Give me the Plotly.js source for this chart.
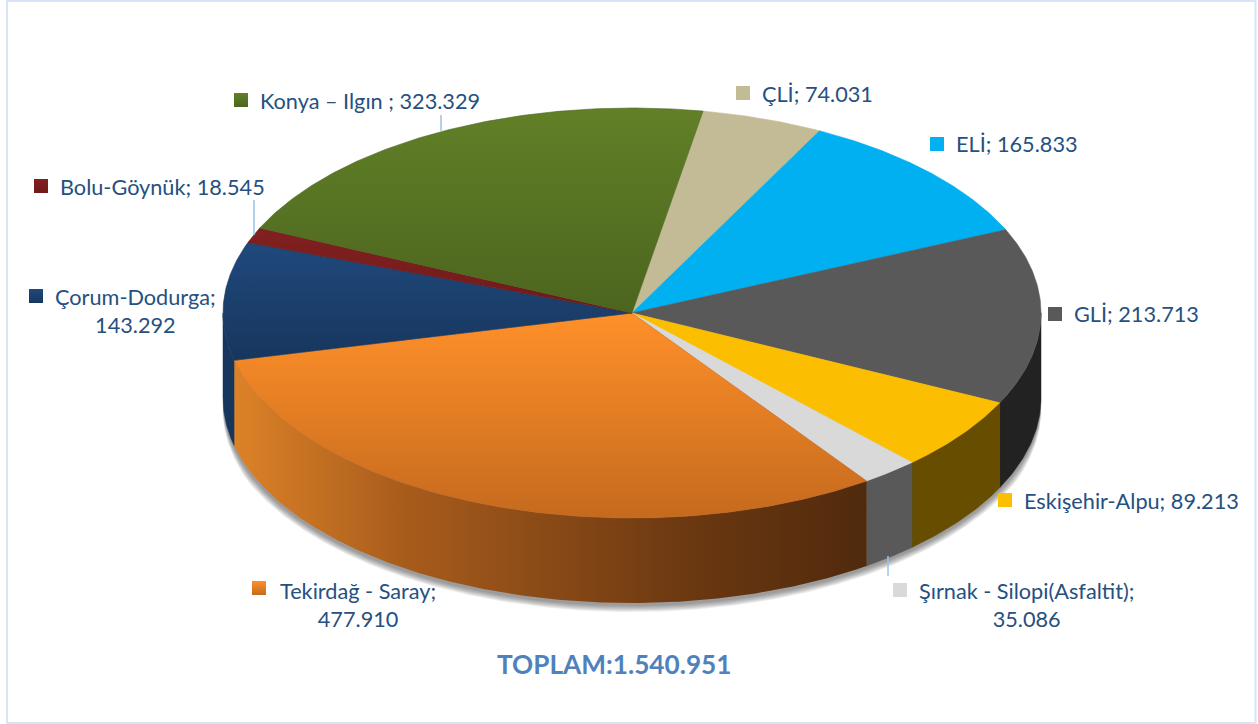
<!DOCTYPE html>
<html><head><meta charset="utf-8">
<script src="https://cdn.plot.ly/plotly-3.0.1.min.js"></script>
<style>html,body{margin:0;padding:0;background:#fff}#c{width:1258px;height:724px}</style>
</head><body><div id="c"></div>
<script>
// ---- data (clockwise from the ÇLİ slice) ----
const categories = ["ÇLİ","ELİ","GLİ","Eskişehir-Alpu","Şırnak - Silopi(Asfaltit)","Tekirdağ - Saray","Çorum-Dodurga","Bolu-Göynük","Konya – Ilgın "];
const values = [74031,165833,213713,89213,35086,477910,143292,18545,323329];
const totalLabel = "TOPLAM:1.540.951";

// ---- styles ----
const topFrom = ["#C2BB96","#00B0F0","#595959","#FCBE00","#D9D9D9","#FF9029","#1F497D","#822020","#618027"];
const topTo   = ["#C2BB96","#00B0F0","#595959","#FCBE00","#D9D9D9","#C56A1E","#17365D","#6E1A1A","#4C651F"];
const wallCol = ["#7F7A60","#007099","#222222","#664D00","#595959","#000000","#17365D","#4D1313","#35461A"];
const orangeWall = [[0,"#DC8228"],[0.27,"#A85C1C"],[0.72,"#6B3811"],[1,"#502A0D"]];

// ---- geometry ----
const CX=632, CY=313, RX=409, RY=205, DEPTH=85, START=10;
const W=1258, H=724;
const rad=d=>d*Math.PI/180;
const px=(t,k=0)=>CX+(RX+k)*Math.sin(rad(t));
const py=(t,k=0,dy=0)=>CY+dy-(RY+k)*Math.cos(rad(t));
const sum=values.reduce((a,b)=>a+b,0);
let acc=START;
const spans=values.map(v=>{const a=acc;acc+=v/sum*360;return [a,acc];});
function arc(a,b,k,dy,taper){const n=Math.max(2,Math.ceil(Math.abs(b-a)*2));const xs=[],ys=[];
  for(let i=0;i<=n;i++){const t=a+(b-a)*i/n;
    const f=taper?Math.min(1,Math.min(t-a,b-t)/taper):1;
    xs.push(px(t,k*f));ys.push(py(t,k*f,dy));}
  return [xs,ys];}

const traces=[];
// soft shadow
for(let k=7;k>=1;k--){
  const [x,y]=arc(90,270,k,DEPTH+2,22);
  traces.push({x,y,type:"scatter",mode:"lines",fill:"toself",fillcolor:"rgba(60,60,60,0.09)",line:{width:0},hoverinfo:"skip",showlegend:false});
}
// walls
spans.forEach(([a,b],i)=>{
  const s=Math.max(a,90), e=Math.min(b,270);
  if(e<=s) return;
  const [x1,y1]=arc(s,e,0,0), [x2,y2]=arc(e,s,0,DEPTH);
  const x=x1.concat(x2), y=y1.concat(y2);
  x.push(x[0]); y.push(y[0]);
  const t={x,y,type:"scatter",mode:"lines",fill:"toself",hoverinfo:"skip",showlegend:false,line:{width:0.5,color:wallCol[i]},fillcolor:wallCol[i]};
  if(i===5){ t.fillgradient={type:"horizontal",colorscale:orangeWall,start:px(e),stop:px(s)}; t.line={width:0}; }
  traces.push(t);
});
// top faces
spans.forEach(([a,b],i)=>{
  const [xa,ya]=arc(a,b,0,0);
  const x=[CX].concat(xa,[CX]), y=[CY].concat(ya,[CY]);
  const t={x,y,type:"scatter",mode:"lines",fill:"toself",hoverinfo:"skip",showlegend:false,line:{width:0.6,color:topFrom[i]},fillcolor:topFrom[i]};
  if(topFrom[i]!==topTo[i]){
    const lo=Math.min(...y), hi=Math.max(...y);
    t.fillgradient={type:"vertical",colorscale:[[0,topFrom[i]],[1,topTo[i]]],start:lo,stop:hi};
    t.line={width:0.6,color:topTo[i]};
  }
  traces.push(t);
});

// ---- labels ----
const fmt=v=>String(v).replace(/\B(?=(\d{3})+$)/g,".");
const sep=[0,0,0,0,1,1,1,0,0]; // 1: value on second line
const textX=[760,954,1072,1022,917,278,53,58,258];
const textY=[94,144,314,501,605,605,311,187,101];
const keyX=[743,937,1055,1005,900,259,36,41,241];
const keyY=[93,144,314,500,590,588,296,186,100];
const annotations=categories.map((c,i)=>({
  x:textX[i],y:textY[i],xref:"x",yref:"y",xanchor:"left",yanchor:"middle",align:"center",showarrow:false,
  text:c+";"+(sep[i]?"<br>":" ")+fmt(values[i]),
  font:{family:"Lato, Carlito, sans-serif",size:21.7,color:"#25507F"}
}));
annotations.push({x:614,y:664,xref:"x",yref:"y",xanchor:"center",yanchor:"middle",showarrow:false,
  text:"<b>"+totalLabel+"</b>",font:{family:"Lato, Carlito, sans-serif",size:26.2,color:"#4F81BD"}});

traces.push({x:keyX,y:keyY,type:"scatter",mode:"markers",hoverinfo:"skip",showlegend:false,
  marker:{symbol:"square",size:14,color:topFrom,gradient:{type:"vertical",color:topTo},line:{width:0}}});

// leader lines
const leaderX=[441,254,888];
const leaderY=[[115,132],[200,235],[556,576]];
const shapes=leaderX.map((x,i)=>({type:"line",xref:"x",yref:"y",x0:x,x1:x,y0:leaderY[i][0],y1:leaderY[i][1],line:{color:"#9DC3E6",width:1.5}}));
// frame
shapes.push({type:"rect",xref:"x",yref:"y",x0:7,y0:1,x1:1255.5,y1:723,line:{color:"#D6E4F5",width:2},fillcolor:"rgba(0,0,0,0)"});

Plotly.newPlot("c",traces,{
  width:W,height:H,margin:{l:0,r:0,t:0,b:0},
  paper_bgcolor:"#fff",plot_bgcolor:"#fff",showlegend:false,
  xaxis:{range:[0,W],visible:false,fixedrange:true},
  yaxis:{range:[H,0],visible:false,fixedrange:true},
  annotations,shapes,hovermode:false
},{displayModeBar:false,staticPlot:true});
</script></body></html>
